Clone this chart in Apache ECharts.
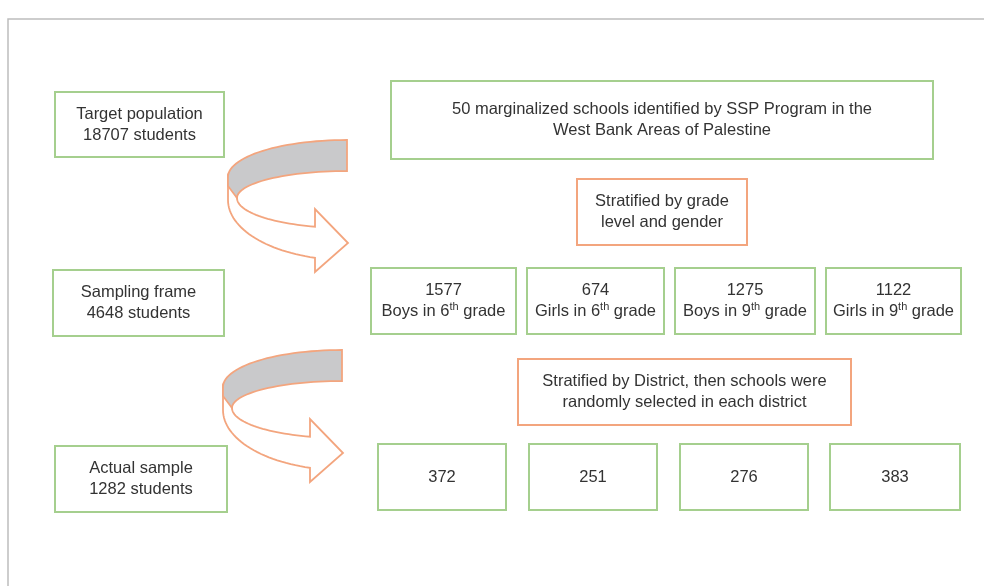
<!DOCTYPE html>
<html>
<head>
<meta charset="utf-8">
<script src="https://cdn.jsdelivr.net/npm/echarts@6/dist/echarts.min.js"></script>
<style>
  html, body { margin: 0; padding: 0; background: #fff; }
  #chart { width: 984px; height: 586px; }
</style>
</head>
<body>
<div id="chart"></div>
<script>
// data
const stageLabels = ['Target population', 'Sampling frame', 'Actual sample']
const stageCounts = [18707, 4648, 1282]
const sourceText = ['50 marginalized schools identified by SSP Program in the', 'West Bank Areas of Palestine']
const stepText = [
    ['Stratified by grade', 'level and gender'],
    ['Stratified by District, then schools were', 'randomly selected in each district']
]
const groupGender = ['Boys', 'Girls', 'Boys', 'Girls']
const groupGrade = ['6', '6', '9', '9']
const groupCounts = [1577, 674, 1275, 1122]
const sampleCounts = [372, 251, 276, 383]

const GREEN = '#a5cf8e'
const ORANGE = '#f3a57e'
const FONT = 'Liberation Sans, Arial, sans-serif'

let chart = echarts.init(document.getElementById('chart'))

// box with centered text
function box(x, y, w, h, color, text) {
    return [
        {
            type: 'rect',
            shape: { x: x, y: y, width: w, height: h },
            style: { fill: '#fff', stroke: color, lineWidth: 2 }
        },
        {
            type: 'text',
            style: {
                text: text,
                x: x + w / 2,
                y: y + h / 2,
                align: 'center',
                verticalAlign: 'middle',
                textAlign: 'center',
                textVerticalAlign: 'middle',
                fontSize: 16.5,
                fontFamily: FONT,
                lineHeight: 21,
                fill: '#333',
                rich: {
                    sup: { fontSize: 11, lineHeight: 11, verticalAlign: 'top', fontFamily: FONT, fill: '#333' }
                }
            }
        }
    ]
}

// points along an ellipse arc, angles in degrees (y axis down)
function arc(cx, cy, rx, ry, a0, a1, n) {
    let pts = []
    for (let i = 0; i <= n; i++) {
        let a = (a0 + (a1 - a0) * i / n) * Math.PI / 180
        pts.push([cx + rx * Math.cos(a), cy + ry * Math.sin(a)])
    }
    return pts
}

// curved ribbon arrow, shape taken from the upper one and shifted
function curvedArrow(dx, dy) {
    let white = [[228, 177], [228, 200]]
        .concat(arc(347, 200, 119, 60, 180, 105.6, 30))
        .concat([[315, 272], [348, 243], [315, 209]])
        .concat(arc(347, 198, 110, 30, 106.9, 180, 30))
    let gray = arc(347, 177, 119, 37, 270, 180, 30)
        .concat([[228, 186]])
        .concat(arc(347, 198, 110, 27, 180, 270, 30))
    let mv = p => [p[0] + dx, p[1] + dy]
    let st = { stroke: ORANGE, lineWidth: 1.8, lineJoin: 'miter' }
    return [
        { type: 'polygon', shape: { points: white.map(mv) }, style: Object.assign({ fill: '#fff' }, st) },
        { type: 'polygon', shape: { points: gray.map(mv) }, style: Object.assign({ fill: '#c9c9cb' }, st) }
    ]
}

let els = []

// outer frame
els.push({
    type: 'rect',
    shape: { x: 8, y: 19, width: 1100, height: 700 },
    style: { fill: 'none', stroke: '#bdbdbd', lineWidth: 1.5 }
})

// left column
let leftBoxes = [[55, 92, 169, 65], [53, 270, 171, 66], [55, 446, 172, 66]]
stageLabels.forEach((s, i) => {
    let b = leftBoxes[i]
    els = els.concat(box(b[0], b[1], b[2], b[3], GREEN, s + '\n' + stageCounts[i] + ' students'))
})

// arrows
els = els.concat(curvedArrow(0, 0))
els = els.concat(curvedArrow(-5, 210))

// right column
els = els.concat(box(391, 81, 542, 78, GREEN, sourceText.join('\n')))
els = els.concat(box(577, 179, 170, 66, ORANGE, stepText[0].join('\n')))

let groupX = [[371, 145], [527, 137], [675, 140], [826, 135]]
groupCounts.forEach((c, i) => {
    let t = c + '\n' + groupGender[i] + ' in ' + groupGrade[i] + '{sup|th} grade'
    els = els.concat(box(groupX[i][0], 268, groupX[i][1], 66, GREEN, t))
})

els = els.concat(box(518, 359, 333, 66, ORANGE, stepText[1].join('\n')))

let sampleX = [[378, 128], [529, 128], [680, 128], [830, 130]]
sampleCounts.forEach((c, i) => {
    els = els.concat(box(sampleX[i][0], 444, sampleX[i][1], 66, GREEN, String(c)))
})

let option = {
    backgroundColor: '#fff',
    animation: false,
    graphic: { elements: els }
}
chart.setOption(option)
</script>
</body>
</html>
